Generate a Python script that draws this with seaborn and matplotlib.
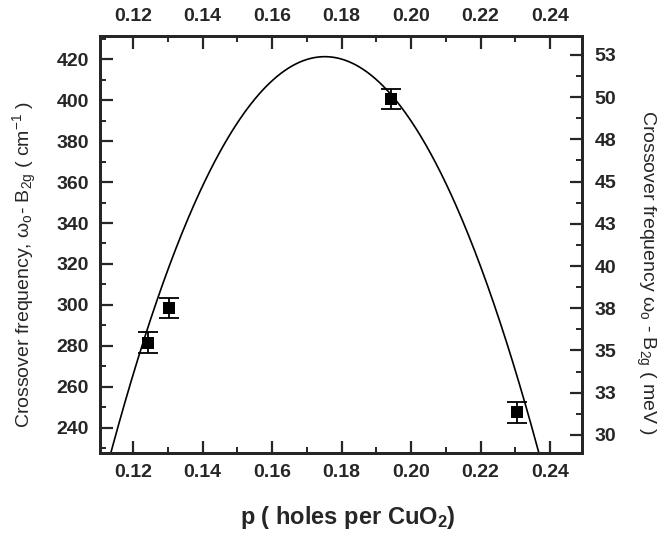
import numpy as np
import pandas as pd
import matplotlib
matplotlib.use("Agg")
import matplotlib.pyplot as plt
from matplotlib.ticker import MultipleLocator, FuncFormatter
import seaborn as sns

# ---- data ----
p_holes = [0.1242, 0.1304, 0.1942, 0.2304]
omega_cm = [281.5, 298.5, 400.5, 247.5]
omega_err = [5.0, 5.0, 5.0, 5.0]

# parabolic fit shown as solid line (parameters)
fit_p_peak = 0.1752
fit_w_peak = 421.3
fit_curv = 51050.0

x_ticks = [0.12, 0.14, 0.16, 0.18, 0.20, 0.22, 0.24]
y_ticks = [240, 260, 280, 300, 320, 340, 360, 380, 400, 420]
mev_ticks = [30, 32.5, 35, 37.5, 40, 42.5, 45, 47.5, 50, 52.5]

sns.set_style("ticks")
plt.rcParams['font.family'] = ['Liberation Sans', 'DejaVu Sans']
plt.rcParams['mathtext.fontset'] = 'custom'
plt.rcParams['mathtext.rm'] = 'Liberation Sans'
plt.rcParams['mathtext.it'] = 'Liberation Sans'
plt.rcParams['mathtext.bf'] = 'Liberation Sans:bold'

fig = plt.figure(figsize=(6.71, 5.37), dpi=100)
ax = fig.add_axes([100/671, 1-453/537, 482/671, 417/537])

xlim = (0.1105, 0.2492)
ylim = (227.6, 431.4)
TICK_FS = 14

p_fit = np.linspace(0.105, 0.25, 400)
w_fit = fit_w_peak - fit_curv * (p_fit - fit_p_peak) ** 2
fit_df = pd.DataFrame({"p": p_fit, "w": w_fit})
sns.lineplot(data=fit_df, x="p", y="w", ax=ax, color="black", lw=1.2)

ax.errorbar(p_holes, omega_cm, yerr=omega_err, fmt='none', ecolor='black',
            elinewidth=1.3, capsize=7.2, capthick=1.3, zorder=3)
pts = pd.DataFrame({"p": p_holes, "w": omega_cm})
sns.scatterplot(data=pts, x="p", y="w", ax=ax, marker='s', s=72,
                color='black', linewidth=0, zorder=4)

ax.set_xlim(*xlim)
ax.set_ylim(*ylim)
ax.set_xticks(x_ticks)
ax.set_xticklabels([f"{v:.2f}" for v in x_ticks])
ax.set_yticks(y_ticks)
ax.xaxis.set_minor_locator(MultipleLocator(0.01))
ax.yaxis.set_minor_locator(MultipleLocator(10))

for lab in ax.get_xticklabels() + ax.get_yticklabels():
    lab.set_fontweight('bold')
    lab.set_fontsize(TICK_FS)

ax.tick_params(which='major', direction='in', length=9, width=1.6, pad=8)
ax.tick_params(which='minor', direction='in', length=4.5, width=1.4)
for s in ax.spines.values():
    s.set_linewidth(2)
    s.set_visible(True)

ax.set_xlabel(r"p ( holes per CuO$_\mathbf{2}$)", fontsize=17, fontweight='bold')
ax.xaxis.set_label_coords(0.515, -0.122)
ax.set_ylabel(r"Crossover frequency, $\omega_o$- B$_{2g}$ ( cm$^{-1}$ )", fontsize=14)
ax.yaxis.label.set_va('center')
ax.yaxis.label.set_ha('center')
ax.yaxis.set_label_coords(-0.156, 0.453)

# top axis
axt = ax.twiny()
axt.set_xlim(*xlim)
axt.set_xticks(x_ticks)
axt.set_xticklabels([f"{v:.2f}" for v in x_ticks], fontsize=TICK_FS, fontweight='bold')
axt.xaxis.set_minor_locator(MultipleLocator(0.01))
axt.tick_params(which='major', direction='in', length=9, width=1.6, pad=8)
axt.tick_params(which='minor', direction='in', length=4.5, width=1.4)

# right axis (meV)
axr = ax.twinx()
axr.set_ylim(28.93, 53.62)
axr.set_yticks(mev_ticks)
axr.yaxis.set_major_formatter(FuncFormatter(lambda v, pos: f"{int(v + 0.5)}"))
axr.yaxis.set_minor_locator(MultipleLocator(1.25))
axr.tick_params(which='major', direction='in', length=9, width=1.6, pad=9, labelsize=TICK_FS)
axr.tick_params(which='minor', direction='in', length=4.5, width=1.4)
for lab in axr.get_yticklabels():
    lab.set_fontweight('bold')
axr.set_ylabel(r"Crossover frequency $\omega_o$ - B$_{2g}$ ( meV )", fontsize=14,
               rotation=270)
axr.yaxis.label.set_va('center')
axr.yaxis.label.set_ha('center')
axr.yaxis.set_label_coords(1.131, 0.434)
for a in (axt, axr):
    for s in a.spines.values():
        s.set_linewidth(2)

fig.savefig("out.png", dpi=100)
